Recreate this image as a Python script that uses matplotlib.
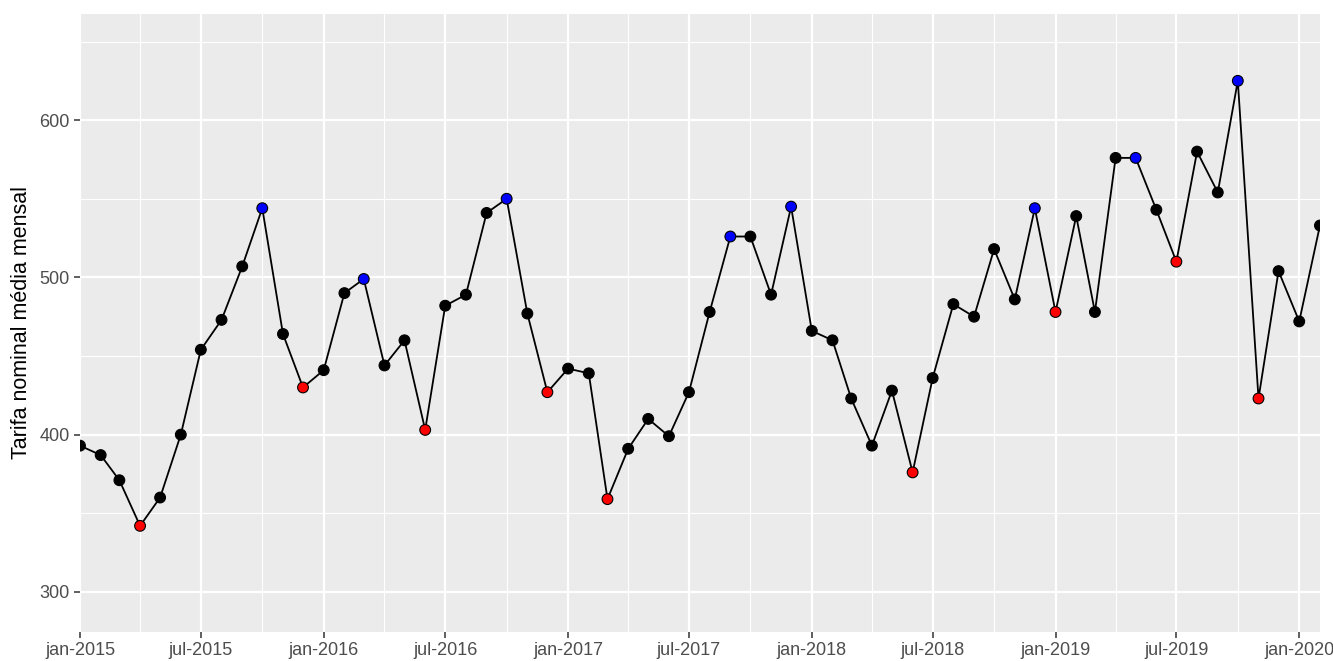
import datetime as dt
import matplotlib
matplotlib.use("Agg")
import matplotlib.pyplot as plt
import matplotlib.dates as mdates
import pandas as pd

# ============== DATA ==============
inicio = "2015-01-01"
tarifa = [393, 387, 371, 342, 360, 400, 454, 473, 507, 544, 464, 430,
          441, 490, 499, 444, 460, 403, 482, 489, 541, 550, 477, 427,
          442, 439, 359, 391, 410, 399, 427, 478, 526, 526, 489, 545,
          466, 460, 423, 393, 428, 376, 436, 483, 475, 518, 486, 544,
          478, 539, 478, 576, 576, 543, 510, 580, 554, 625, 423, 504,
          472, 533]
# 'max' = pico (azul), 'min' = vale (vermelho), '' = normal
tipo = ['', '', '', 'min', '', '', '', '', '', 'max', '', 'min',
        '', '', 'max', '', '', 'min', '', '', '', 'max', '', 'min',
        '', '', 'min', '', '', '', '', '', 'max', '', '', 'max',
        '', '', '', '', '', 'min', '', '', '', '', '', 'max',
        'min', '', '', '', 'max', '', 'min', '', '', 'max', 'min', '',
        '', '']
tick_labels = ["jan-2015", "jul-2015", "jan-2016", "jul-2016", "jan-2017",
               "jul-2017", "jan-2018", "jul-2018", "jan-2019", "jul-2019",
               "jan-2020"]
y_ticks = [300, 400, 500, 600]
y_minor = [350, 450, 550, 650]
# ==================================

cores = {'max': 'blue', 'min': 'red', '': 'black'}
datas = pd.date_range(inicio, periods=len(tarifa), freq="MS")
df = pd.DataFrame({'data': datas, 'tarifa': tarifa, 'tipo': tipo})

fig = plt.figure(figsize=(13.33, 6.61), dpi=100)
ax = fig.add_axes([0.0600, 0.0439, 0.9302, 0.9349])
ax.set_facecolor('#EBEBEB')
for s in ax.spines.values():
    s.set_visible(False)

ax.plot(df['data'], df['tarifa'], color='black', linewidth=1.3, zorder=3)
ax.scatter(df['data'], df['tarifa'], c=[cores[t] for t in df['tipo']],
           edgecolors='black', linewidths=0.8, s=60, zorder=4)

# eixos
ax.set_xlim(df['data'].iloc[0], df['data'].iloc[-1])
ax.set_ylim(274.5, 667.5)
major_x = pd.date_range(inicio, periods=len(tick_labels), freq="6MS")
minor_x = pd.date_range("2015-04-01", "2020-02-01", freq="6MS")
ax.set_xticks(major_x)
ax.set_xticklabels(tick_labels)
ax.set_xticks(minor_x, minor=True)
ax.set_yticks(y_ticks)
ax.set_yticks(y_minor, minor=True)

ax.grid(which='major', color='white', linewidth=1.6, zorder=0)
ax.grid(which='minor', color='white', linewidth=0.8, zorder=0)
ax.set_axisbelow(True)

ax.tick_params(which='major', length=4.5, width=1.1, color='#333333',
               labelsize=13, labelcolor='#4D4D4D', pad=3)
ax.tick_params(which='minor', length=0)
for lab in ax.get_xticklabels() + ax.get_yticklabels():
    lab.set_fontfamily('Liberation Sans')

ax.set_ylabel("Tarifa nominal média mensal", fontsize=15.5, family='Liberation Sans',
              labelpad=5)

fig.savefig("out.png", dpi=100)
